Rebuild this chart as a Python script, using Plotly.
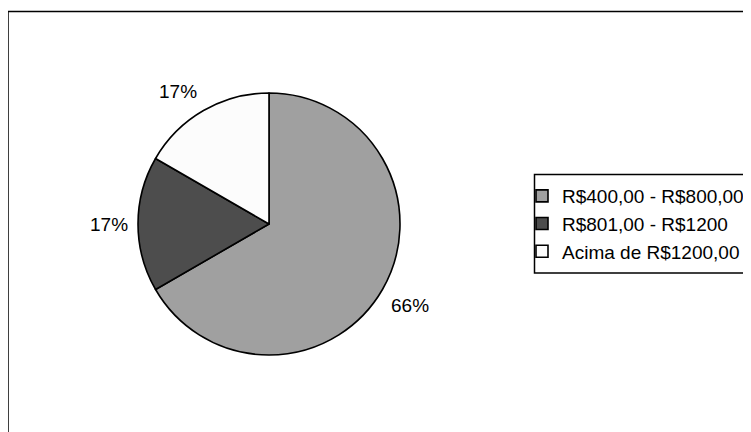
import math
import plotly.graph_objects as go

categories = ["R$400,00 - R$800,00", "R$801,00 - R$1200", "Acima de R$1200,00"]
values = [66.67, 16.67, 16.67]
pct_labels = ["66%", "17%", "17%"]
colors = ["#a0a0a0", "#4d4d4d", "#fcfcfc"]

W, H = 751, 432
OFF = 8  # page body margin in the browser
FONT = "Liberation Sans, Arial, Helvetica, sans-serif"


def px(x):
    return (x - OFF) / W


def py(y):
    return (H - (y - OFF)) / H


cx, cy, r = 269, 224, 131
label_r = 139

fig = go.Figure(go.Pie(
    labels=categories,
    values=values,
    textinfo="none",
    sort=False,
    direction="clockwise",
    rotation=0,
    marker=dict(colors=colors, line=dict(color="black", width=1.6)),
    domain=dict(x=[px(cx - r), px(cx + r)], y=[py(cy + r), py(cy - r)]),
    hoverinfo="skip",
))

# percentage labels placed around the pie at each slice's mid-angle
annotations = []
total = sum(values)
cum = 0.0
for v, t in zip(values, pct_labels):
    mid = (cum + v / 2) / total * 2 * math.pi
    cum += v
    s, c = math.sin(mid), math.cos(mid)
    lx = cx + label_r * s
    ly = cy - label_r * c
    xa = "center" if abs(s) < 0.3 else ("left" if s > 0 else "right")
    ya = "middle" if abs(c) < 0.3 else ("bottom" if c > 0 else "top")
    annotations.append(dict(
        x=px(lx), y=py(ly), xref="paper", yref="paper",
        text=t, showarrow=False, xanchor=xa, yanchor=ya,
        font=dict(family=FONT, size=19, color="black"),
    ))

fig.update_layout(
    width=W, height=H,
    margin=dict(l=0, r=0, t=0, b=0),
    paper_bgcolor="white",
    plot_bgcolor="white",
    font=dict(family=FONT, size=19, color="black"),
    showlegend=True,
    legend=dict(
        x=px(522), xanchor="left",
        y=py(177), yanchor="top",
        bgcolor="rgba(0,0,0,0)",
        borderwidth=0,
        font=dict(family=FONT, size=19, color="black"),
        traceorder="normal",
    ),
    annotations=annotations,
    shapes=[
        dict(type="rect", xref="paper", yref="paper",
             x0=px(8), x1=1.2, y0=-0.2, y1=py(11.5),
             line=dict(color="black", width=1.5), fillcolor="rgba(0,0,0,0)"),
        dict(type="rect", xref="paper", yref="paper",
             x0=px(534.5), x1=1.2, y0=py(273), y1=py(174.5),
             line=dict(color="black", width=1.5), fillcolor="rgba(0,0,0,0)"),
    ],
)

fig.write_html("out.html")
